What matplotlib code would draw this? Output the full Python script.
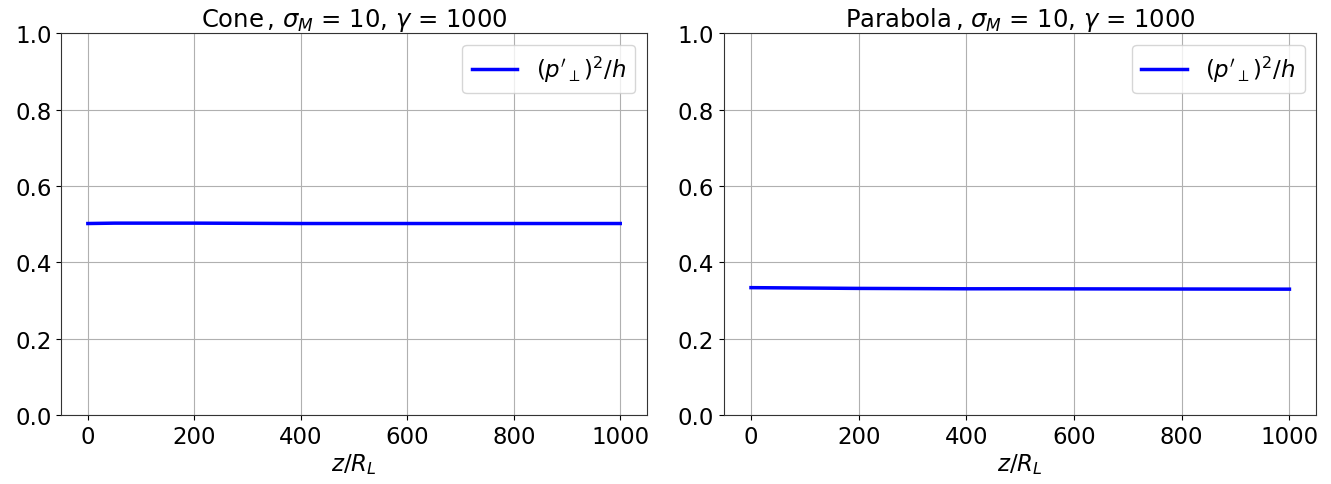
import numpy as np
import matplotlib
matplotlib.use('Agg')
import matplotlib.pyplot as plt

# values
z = [0, 50, 100, 200, 300, 400, 500, 600, 700, 800, 900, 1000]
cone = [0.502, 0.503, 0.503, 0.503, 0.5025, 0.502, 0.502, 0.502, 0.502, 0.502, 0.502, 0.502]
parabola = [0.334, 0.3335, 0.333, 0.332, 0.3315, 0.331, 0.331, 0.3308, 0.3306, 0.3304, 0.3302, 0.330]

titles = [r'Cone$\,$, $\sigma_M$ = 10, $\gamma$ = 1000',
          r'Parabola$\,$, $\sigma_M$ = 10, $\gamma$ = 1000']
series = [cone, parabola]

plt.rcParams['font.family'] = 'DejaVu Sans'
plt.rcParams['font.size'] = 16.5
plt.rcParams['axes.edgecolor'] = '#333333'

fig = plt.figure(figsize=(13.31, 4.85), dpi=100)
positions = [[0.046, 0.142, 0.440, 0.787], [0.544, 0.142, 0.445, 0.787]]

for pos, title, vals in zip(positions, titles, series):
    ax = fig.add_axes(pos)
    ax.plot(z, vals, color='b', linewidth=2.5, label=r"$(p'_\perp)^2/h$")
    ax.set_xlim(-50, 1050)
    ax.set_ylim(0, 1)
    ax.set_xticks([0, 200, 400, 600, 800, 1000])
    ax.set_yticks([0.0, 0.2, 0.4, 0.6, 0.8, 1.0])
    ax.set_title(title, fontsize=17.5, pad=4)
    ax.set_xlabel(r'$z/R_L$', labelpad=2)
    ax.grid(True)
    ax.legend(loc='upper right')

fig.savefig('out.png', dpi=100)
